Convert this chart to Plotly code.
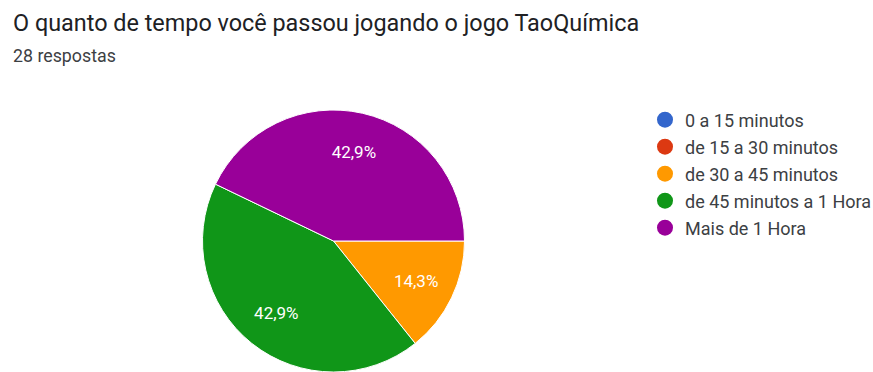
import plotly.graph_objects as go

# Survey answers: "O quanto de tempo você passou jogando o jogo TaoQuímica"
categories = ["0 a 15 minutos", "de 15 a 30 minutos", "de 30 a 45 minutos",
              "de 45 minutos a 1 Hora", "Mais de 1 Hora"]
responses = [0, 0, 4, 12, 12]
colors = ["#3366cc", "#dc3912", "#ff9900", "#109618", "#990099"]

title_text = "O quanto de tempo você passou jogando o jogo TaoQuímica"
subtitle_text = f"{sum(responses)} respostas"

W, H = 873, 372
FONT = "Roboto, Arial, sans-serif"
pie_domain = dict(x=[202.5 / W, 464.5 / W], y=[0, 262 / H])

fig = go.Figure()

# Solid pie (slices only)
fig.add_trace(go.Pie(
    labels=categories,
    values=responses,
    sort=False,
    direction="clockwise",
    rotation=90,
    marker=dict(colors=colors, line=dict(color="white", width=1)),
    textinfo="none",
    hoverinfo="label+value+percent",
    showlegend=False,
    domain=pie_domain,
))

# Transparent ring on top carrying the percentage labels, so they sit
# at roughly 70% of the radius
fig.add_trace(go.Pie(
    labels=categories,
    values=responses,
    sort=False,
    direction="clockwise",
    rotation=90,
    hole=0.4,
    marker=dict(colors=["rgba(0,0,0,0)"] * len(categories),
                line=dict(color="rgba(0,0,0,0)", width=0)),
    texttemplate="%{percent:.1%}",
    textposition="inside",
    insidetextorientation="horizontal",
    insidetextfont=dict(color="white", size=17, family=FONT),
    hoverinfo="skip",
    showlegend=False,
    domain=pie_domain,
))

# Round legend markers, one entry per answer option
for name, col in zip(categories, colors):
    fig.add_trace(go.Scatter(
        x=[None], y=[None], mode="markers", name=name, legendgroup=name,
        marker=dict(symbol="circle", size=16, color=col),
        hoverinfo="skip",
    ))

fig.update_layout(
    width=W, height=H,
    margin=dict(l=0, r=0, t=0, b=0, autoexpand=False),
    paper_bgcolor="white", plot_bgcolor="white",
    separators=",.",
    font=dict(family=FONT, color="#202124"),
    xaxis=dict(visible=False), yaxis=dict(visible=False),
    legend=dict(
        x=645 / W, y=1 - 101.5 / H, xanchor="left", yanchor="top",
        font=dict(size=18, color="#3c4043", family=FONT),
        tracegroupgap=0.6, itemclick=False, itemdoubleclick=False,
        bgcolor="rgba(0,0,0,0)",
    ),
    annotations=[
        dict(text=title_text, x=11 / W, y=1 - 23 / H, xref="paper", yref="paper",
             xanchor="left", yanchor="middle", showarrow=False,
             font=dict(size=23.4, color="#202124", family=FONT)),
        dict(text=subtitle_text, x=11 / W, y=1 - 56 / H, xref="paper", yref="paper",
             xanchor="left", yanchor="middle", showarrow=False,
             font=dict(size=17.8, color="#3c4043", family=FONT)),
    ],
)

fig.write_html("out.html")
